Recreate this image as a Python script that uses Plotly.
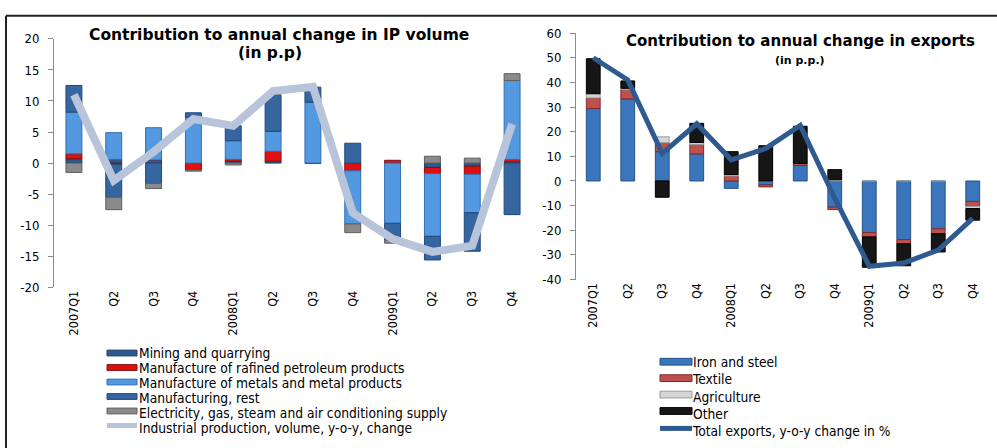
import plotly.graph_objects as go

# ---------------- data ----------------
quarters = ["2007Q1", "Q2", "Q3", "Q4", "2008Q1", "Q2", "Q3", "Q4", "2009Q1", "Q2", "Q3", "Q4"]

# Left chart: contribution to annual change in IP volume (p.p.)
ip_names = ["Mining and quarrying",
            "Manufacture of rafined petroleum products",
            "Manufacture of metals and metal products",
            "Manufacturing, rest",
            "Electricity, gas, steam and air conditioning supply"]
ip_line_name = "Industrial production, volume, y-o-y, change"
mining = [0.7, 0.6, 0.5, 0.0, 0.3, 0.3, 0.0, 0.0, 0.0, -0.7, -0.5, 0.2]
petroleum = [0.8, -0.2, 0.0, -1.1, 0.3, 1.6, 0.0, -1.25, 0.45, -1.0, -1.3, 0.4]
metals = [6.7, 4.3, 5.2, 7.4, 3.0, 3.2, 9.8, -8.55, -9.7, -10.1, -6.2, 12.7]
manuf_rest = [4.3, -5.3, -3.3, 0.7, 2.4, 5.9, 2.4, 3.2, -2.7, -3.8, -6.2, -8.3]
electricity = [-1.5, -2.0, -0.8, -0.2, -0.3, 0.0, 0.0, -1.4, -0.5, 1.1, 0.8, 1.1]
ip_change = [11.0, -2.8, 1.8, 7.1, 6.0, 11.6, 12.3, -8.0, -12.2, -14.3, -13.3, 6.3]
ip_ticks = [-20, -15, -10, -5, 0, 5, 10, 15, 20]

# Right chart: contribution to annual change in exports (p.p.)
ex_names = ["Iron and steel", "Textile", "Agriculture", "Other"]
ex_line_name = "Total exports, y-o-y change in %"
iron_steel = [29.4, 33.3, 11.9, 11.0, -3.0, -1.6, 6.3, -10.6, -20.9, -23.8, -19.4, -8.3]
textile = [4.3, 3.7, 3.6, 3.8, 2.0, -0.8, 0.8, -1.0, -1.8, -1.7, -2.0, -2.0]
agriculture = [1.7, 0.6, 2.4, 0.8, 0.6, 0.0, 0.0, 0.5, 0.0, 0.0, 0.0, -0.9]
other = [14.2, 3.0, -6.6, 7.8, 9.3, 14.3, 15.1, 4.1, -12.3, -8.9, -7.4, -4.7]
exports_change = [50.0, 41.0, 11.2, 23.2, 8.6, 13.2, 22.5, -7.0, -34.6, -33.3, -28.0, -15.2]
ex_ticks = [-40, -30, -20, -10, 0, 10, 20, 30, 40, 50, 60]

# ---------------- styling ----------------
W, H = 997, 448
FONT = "DejaVu Sans Condensed, Liberation Sans, sans-serif"
TFONT = "DejaVu Sans, sans-serif"
AXIS_GRAY = "#8c8c8c"

ip_colors = ["#2c5a8e", "#e01010", "#5499e0", "#3566a0", "#8a8a8a"]
ip_lines = ["#1d406b", "#8a0c0c", "#2f6fb5", "#204a7a", "#5e5e5e"]
ip_line_color = "#b8c4da"
ex_colors = ["#3b76bd", "#c0504d", "#d6d6d6", "#161616"]
ex_lines = ["#24528a", "#7e2c2a", "#9a9a9a", "#000000"]
ex_line_color = "#2f5a8f"

def px_x(p):
    return p / W

def px_y(p):
    return 1 - p / H

def hyphen_labels(vals):
    return [str(v) for v in vals]

x_idx = list(range(len(quarters)))

fig = go.Figure()

ip_series = [mining, petroleum, metals, manuf_rest, electricity]
for name, vals, c, lc in zip(ip_names, ip_series, ip_colors, ip_lines):
    fig.add_trace(go.Bar(x=x_idx, y=vals, name=name, marker=dict(color=c, line=dict(color=lc, width=1)),
                         xaxis="x", yaxis="y", showlegend=False))
fig.add_trace(go.Scatter(x=x_idx, y=ip_change, name=ip_line_name, mode="lines",
                         line=dict(color=ip_line_color, width=8), xaxis="x", yaxis="y", showlegend=False))

ex_series = [iron_steel, textile, agriculture, other]
for name, vals, c, lc in zip(ex_names, ex_series, ex_colors, ex_lines):
    fig.add_trace(go.Bar(x=x_idx, y=vals, name=name, marker=dict(color=c, line=dict(color=lc, width=1)),
                         xaxis="x2", yaxis="y2", showlegend=False))
fig.add_trace(go.Scatter(x=x_idx, y=exports_change, name=ex_line_name, mode="lines",
                         line=dict(color=ex_line_color, width=5), xaxis="x2", yaxis="y2", showlegend=False))

# domains (pixel based)
L_x0, L_x1, L_y0, L_y1 = 54, 532, 33, 290
R_x0, R_x1, R_y0, R_y1 = 576, 990, 27, 282
left_dom_x = [px_x(L_x0), px_x(L_x1)]
left_dom_y = [px_y(L_y1), px_y(L_y0)]
right_dom_x = [px_x(R_x0), px_x(R_x1)]
right_dom_y = [px_y(R_y1), px_y(R_y0)]
left_range = [ip_ticks[0], ip_ticks[-1]]
right_range = [ex_ticks[0], ex_ticks[-1]]
left_zero = left_dom_y[0] + (0 - left_range[0]) / (left_range[1] - left_range[0]) * (left_dom_y[1] - left_dom_y[0])
right_zero = right_dom_y[0] + (0 - right_range[0]) / (right_range[1] - right_range[0]) * (right_dom_y[1] - right_dom_y[0])

xr = [-0.5, len(quarters) - 0.5]
bounds = [i - 0.5 for i in range(len(quarters) + 1)]

tickfont = dict(family=FONT, size=13, color="#000000")
xtickfont = dict(family=FONT, size=12.5, color="#000000")

def cat_axis(dom, anchor):
    return dict(domain=dom, anchor=anchor, range=xr, tickmode="array", tickvals=x_idx, ticktext=quarters,
                tickangle=-90, showline=False, showgrid=False, zeroline=False, ticks="", tickfont=xtickfont,
                fixedrange=True)

def zero_axis(over, pos):
    return dict(overlaying=over, anchor="free", position=pos, range=xr, tickmode="array", tickvals=bounds,
                ticks="outside", ticklen=4, tickcolor=AXIS_GRAY, showticklabels=False, showline=True,
                linecolor=AXIS_GRAY, linewidth=1, showgrid=False, zeroline=False)

def val_axis(dom, anchor, ticks):
    return dict(domain=dom, anchor=anchor, range=[ticks[0], ticks[-1]], tickmode="array", tickvals=ticks,
                ticktext=hyphen_labels(ticks), showline=True, linecolor=AXIS_GRAY,
                linewidth=1, ticks="outside", ticklen=5, tickcolor=AXIS_GRAY, showgrid=False, zeroline=False,
                tickfont=tickfont, fixedrange=True, ticklabelstandoff=6)

fig.update_layout(
    width=W, height=H, margin=dict(l=0, r=0, t=0, b=0),
    paper_bgcolor="white", plot_bgcolor="rgba(0,0,0,0)",
    barmode="relative", bargap=0.6,
    font=dict(family=FONT, color="#000000"),
    xaxis=cat_axis(left_dom_x, "y"),
    yaxis=val_axis(left_dom_y, "x", ip_ticks),
    xaxis2=cat_axis(right_dom_x, "y2"),
    yaxis2=val_axis(right_dom_y, "x2", ex_ticks),
    xaxis3=zero_axis("x", left_zero),
    xaxis4=zero_axis("x2", right_zero),
    showlegend=False,
)

annotations = []
shapes = []
title_font = dict(family=TFONT, size=15.5, color="#000000")
annotations.append(dict(text="<b>Contribution to annual change in IP volume</b>", x=px_x(279), y=px_y(29),
                        xref="paper", yref="paper", showarrow=False, xanchor="center", yanchor="middle", font=title_font))
annotations.append(dict(text="<b>(in p.p)</b>", x=px_x(270), y=px_y(48), xref="paper", yref="paper",
                        showarrow=False, xanchor="center", yanchor="middle", font=title_font))
annotations.append(dict(text="<b>Contribution to annual change in exports</b>", x=px_x(800), y=px_y(35),
                        xref="paper", yref="paper", showarrow=False, xanchor="center", yanchor="middle",
                        font=dict(family=TFONT, size=15, color="#000000")))
annotations.append(dict(text="<b>(in p.p.)</b>", x=px_x(800), y=px_y(55), xref="paper", yref="paper",
                        showarrow=False, xanchor="center", yanchor="middle",
                        font=dict(family=TFONT, size=11, color="#000000")))

def legend_block(names, colors, lcolors, line_name, line_color, line_w, sx0, sx1, ys, tx, sym_h, glyph_size):
    for i, (c, lc) in enumerate(zip(colors, lcolors)):
        yc = ys[i]
        shapes.append(dict(type="rect", xref="paper", yref="paper", x0=px_x(sx0), x1=px_x(sx1),
                           y0=px_y(yc + sym_h / 2), y1=px_y(yc - sym_h / 2), fillcolor=c,
                           line=dict(color=lc, width=1)))
    yc = ys[len(names)]
    shapes.append(dict(type="line", xref="paper", yref="paper", x0=px_x(sx0), x1=px_x(sx1), y0=px_y(yc),
                       y1=px_y(yc), line=dict(color=line_color, width=line_w)))
    # one multi-line text block; base size sets the row spacing (1.3 em)
    spacing = (ys[-1] - ys[0]) / (len(ys) - 1)
    base = spacing / 1.3
    lines = ["<span style='font-size:%.1fpx'>%s</span>" % (glyph_size, t) for t in list(names) + [line_name]]
    annotations.append(dict(text="<br>".join(lines), x=px_x(tx), y=px_y((ys[0] + ys[-1]) / 2 + 1),
                            xref="paper", yref="paper", showarrow=False, xanchor="left", yanchor="middle",
                            align="left", borderpad=0, font=dict(family=FONT, size=base, color="#000000")))

legend_block(ip_names, ip_colors, ip_lines, ip_line_name, ip_line_color, 5, 107, 137,
             [358, 373, 388, 403, 418, 433], 138, 6, 13.7)
legend_block(ex_names, ex_colors, ex_lines, ex_line_name, ex_line_color, 5, 660, 692,
             [367, 384, 401, 418, 436], 691, 7, 13.7)

# outer frame
shapes.append(dict(type="line", xref="paper", yref="paper", x0=px_x(6), x1=px_x(1000), y0=px_y(9), y1=px_y(9),
                   line=dict(color="#222222", width=2)))
shapes.append(dict(type="line", xref="paper", yref="paper", x0=px_x(6), x1=px_x(6), y0=px_y(9), y1=px_y(460),
                   line=dict(color="#222222", width=2)))

fig.update_layout(annotations=annotations, shapes=shapes)
fig.write_html("out.html", config={"displayModeBar": False},
               post_script="document.body.style.margin='0';document.body.style.overflow='hidden';")
